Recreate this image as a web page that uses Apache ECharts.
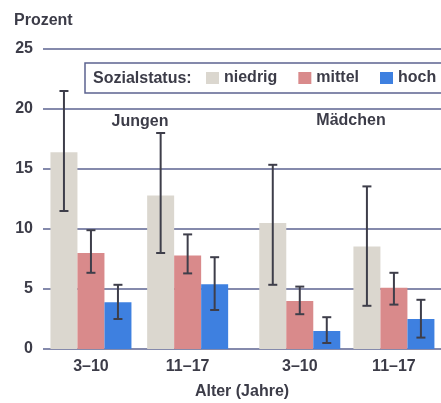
<!DOCTYPE html>
<html>
<head>
<meta charset="utf-8">
<script src="https://cdn.jsdelivr.net/npm/echarts@6/dist/echarts.min.js"></script>
<style>
  html, body { margin: 0; padding: 0; background: #fff; }
  #chart { width: 441px; height: 403px; }
</style>
</head>
<body>
<div id="chart"></div>
<script>
// Age groups on the x axis, one panel for boys and one for girls
const ageGroups = ['3–10', '11–17'];
const statusNames = ['niedrig', 'mittel', 'hoch'];
const yTicks = [0, 5, 10, 15, 20, 25];

// Prevalence in percent, by social status
const jungenNiedrig = [16.4, 12.8];
const jungenMittel = [8.0, 7.8];
const jungenHoch = [3.9, 5.4];
const maedchenNiedrig = [10.5, 8.55];
const maedchenMittel = [4.0, 5.1];
const maedchenHoch = [1.5, 2.5];

// 95 % confidence intervals [lower, upper]
const jungenNiedrigKI = [[11.5, 21.5], [8.0, 18.0]];
const jungenMittelKI = [[6.35, 9.9], [6.3, 9.55]];
const jungenHochKI = [[2.5, 5.35], [3.25, 7.65]];
const maedchenNiedrigKI = [[5.35, 15.35], [3.6, 13.55]];
const maedchenMittelKI = [[2.9, 5.2], [3.7, 6.35]];
const maedchenHochKI = [[0.5, 2.65], [0.95, 4.1]];

const COLORS = ['#dbd7cf', '#d98a8b', '#3e80e0'];
const TEXT = '#3c3c48';
const GRID_LINE = '#5c6390';
const FONT = '"Liberation Sans", Arial, sans-serif';
const BAR_W = 27;

const panels = [
  { values: [jungenNiedrig, jungenMittel, jungenHoch], ki: [jungenNiedrigKI, jungenMittelKI, jungenHochKI] },
  { values: [maedchenNiedrig, maedchenMittel, maedchenHoch], ki: [maedchenNiedrigKI, maedchenMittelKI, maedchenHochKI] }
];

function errorBar(offset) {
  return function (params, api) {
    const idx = api.value(0);
    const x = api.coord([idx, 0])[0] + offset;
    const yLo = api.coord([idx, api.value(1)])[1];
    const yHi = api.coord([idx, api.value(2)])[1];
    const cap = 4.5;
    const style = { stroke: '#3e3e4a', lineWidth: 2 };
    return {
      type: 'group',
      children: [
        { type: 'line', shape: { x1: x, y1: yLo, x2: x, y2: yHi }, style },
        { type: 'line', shape: { x1: x - cap, y1: yHi, x2: x + cap, y2: yHi }, style },
        { type: 'line', shape: { x1: x - cap, y1: yLo, x2: x + cap, y2: yLo }, style }
      ]
    };
  };
}

const series = [];
panels.forEach(function (panel, p) {
  const axisIdx = p + 1;
  panel.values.forEach(function (vals, s) {
    series.push({
      name: statusNames[s],
      type: 'bar',
      xAxisIndex: axisIdx,
      yAxisIndex: axisIdx,
      data: vals,
      barWidth: BAR_W,
      barGap: '0%',
      itemStyle: { color: COLORS[s] },
      z: 2,
      silent: true
    });
  });
  panel.ki.forEach(function (ci, s) {
    series.push({
      name: 'KI ' + statusNames[s],
      type: 'custom',
      xAxisIndex: axisIdx,
      yAxisIndex: axisIdx,
      data: ci.map(function (r, i) { return [i, r[0], r[1]]; }),
      renderItem: errorBar((s - 1) * BAR_W),
      z: 3,
      silent: true
    });
  });
});

const yMax = yTicks[yTicks.length - 1];
const labelStyle = { color: TEXT, fontFamily: FONT, fontWeight: 'bold', fontSize: 16 };

const chart = echarts.init(document.getElementById('chart'), null, { renderer: 'canvas' });
chart.setOption({
  animation: false,
  backgroundColor: '#ffffff',
  grid: [
    { left: 43, right: 0, top: 49, height: 300 },
    { left: 42.6, width: 193.4, top: 49, height: 300 },
    { left: 252.7, width: 194, top: 49, height: 300 }
  ],
  xAxis: [
    { type: 'category', gridIndex: 0, data: ageGroups, show: false },
    {
      type: 'category', gridIndex: 1, data: ageGroups,
      axisLine: { show: false }, axisTick: { show: false },
      axisLabel: Object.assign({ margin: 10 }, labelStyle)
    },
    {
      type: 'category', gridIndex: 2, data: ageGroups,
      axisLine: { show: false }, axisTick: { show: false },
      axisLabel: Object.assign({ margin: 10 }, labelStyle)
    }
  ],
  yAxis: [
    {
      type: 'value', gridIndex: 0, min: 0, max: yMax, interval: yTicks[1] - yTicks[0],
      axisLine: { show: false }, axisTick: { show: false },
      axisLabel: Object.assign({ margin: 10 }, labelStyle),
      splitLine: { show: true, lineStyle: { color: GRID_LINE, width: 1.5 } }
    },
    { type: 'value', gridIndex: 1, min: 0, max: yMax, show: false, splitLine: { show: false } },
    { type: 'value', gridIndex: 2, min: 0, max: yMax, show: false, splitLine: { show: false } }
  ],
  legend: {
    data: statusNames,
    left: 85,
    top: 63,
    width: 700,
    orient: 'horizontal',
    padding: [7, 40, 7, 121],
    itemGap: 21,
    itemWidth: 13,
    itemHeight: 12,
    icon: 'rect',
    borderColor: GRID_LINE,
    borderWidth: 1.5,
    borderRadius: 0,
    backgroundColor: '#ffffff',
    selectedMode: false,
    textStyle: Object.assign({ padding: [1, 0, 0, 0] }, labelStyle)
  },
  graphic: [
    { type: 'text', x: 14, y: 20.5, z: 10, style: { text: 'Prozent', fill: TEXT, font: 'bold 16px ' + FONT, textVerticalAlign: 'middle' } },
    { type: 'text', x: 93, y: 79, z: 10, style: { text: 'Sozialstatus:', fill: TEXT, font: 'bold 16px ' + FONT, textVerticalAlign: 'middle' } },
    { type: 'text', x: 140, y: 122, z: 10, style: { text: 'Jungen', fill: TEXT, font: 'bold 16px ' + FONT, textAlign: 'center', textVerticalAlign: 'middle' } },
    { type: 'text', x: 351, y: 121, z: 10, style: { text: 'Mädchen', fill: TEXT, font: 'bold 16px ' + FONT, textAlign: 'center', textVerticalAlign: 'middle' } },
    { type: 'text', x: 242, y: 392, z: 10, style: { text: 'Alter (Jahre)', fill: TEXT, font: 'bold 16px ' + FONT, textAlign: 'center', textVerticalAlign: 'middle' } }
  ],
  series: series
});
</script>
</body>
</html>
